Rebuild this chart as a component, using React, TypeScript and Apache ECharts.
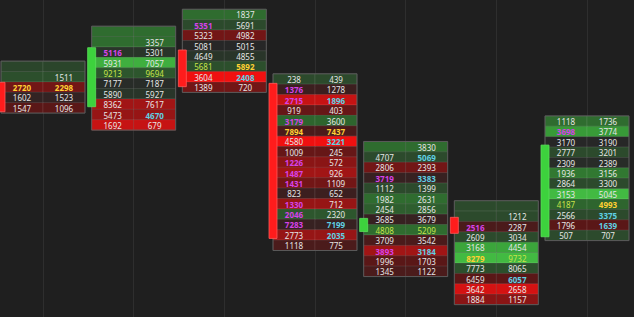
import React, { useEffect, useRef } from 'react';
import * as echarts from 'echarts';

// candle time buckets
const times = ['09:30', '09:35', '09:40', '09:45', '09:50', '09:55', '10:00'];
// price level (in ticks from the top of the view) of each candle's first footprint row
const topLevels = [6.38, 3.02, 1.39, 7.6, 14.11, 19.81, 11.65];
// candle bodies (same tick units)
const opens = [7.92, 10.27, 4.81, 8.02, 22.28, 20.91, 22.78];
const closes = [10.75, 4.59, 8.34, 22.94, 21.01, 22.45, 13.96];

// bid volume per price row (top to bottom)
const bids: (number | null)[][] = [
  [null, null, 2720, 1602, 1547],
  [null, null, 5116, 5931, 9213, 7177, 5890, 8362, 5473, 1692],
  [null, 5351, 5323, 5081, 4649, 5681, 3604, 1389],
  [238, 1376, 2715, 919, 3179, 7894, 4580, 1009, 1226, 1487, 1431, 823, 1330, 2046, 7283, 2773, 1118],
  [null, 4707, 2806, 3719, 1112, 1982, 2454, 3685, 4808, 3709, 3893, 1996, 1345],
  [null, null, 2516, 2609, 3168, 8279, 7773, 6459, 3642, 1884],
  [1118, 3698, 3170, 2777, 2309, 1936, 2864, 3153, 4187, 2566, 1796, 507],
];
// ask volume per price row
const asks: (number | null)[][] = [
  [null, 1511, 2298, 1523, 1096],
  [null, 3357, 5301, 7057, 9694, 7187, 5927, 7617, 4670, 679],
  [1837, 5691, 4982, 5015, 4855, 5892, 2408, 720],
  [439, 1278, 1896, 403, 3600, 7437, 3221, 245, 572, 926, 1109, 652, 712, 2320, 7199, 2035, 775],
  [3830, 5069, 2393, 3383, 1399, 2631, 2856, 3679, 5209, 3542, 3184, 1703, 1122],
  [null, 1212, 2287, 3034, 4454, 9732, 8065, 6057, 2658, 1157],
  [1736, 3774, 3190, 3201, 2389, 3156, 3300, 5045, 4993, 3375, 1639, 707],
];
// heat of each row (-1 strong selling .. +1 strong buying)
const heat: number[][] = [
  [0.3, 0.4, -0.5, -0.1, -0.4],
  [0.6, 0.6, 0.15, 0.9, 0.45, 0.05, 0.15, -0.7, -0.65, -0.85],
  [0.6, 0.35, -0.5, 0, 0.15, 0.4, -1, -0.5],
  [0.35, -0.2, -0.85, -0.45, 0.55, -0.3, -1, -0.45, -0.6, -0.7, -0.5, -0.2, -0.65, 0.45, -0.15, -0.65, -0.3],
  [0.6, 0.35, -0.5, -0.15, 0.35, 0.6, 0.5, -0.15, 0.6, -0.3, -0.7, -0.4, -0.3],
  [0.35, 0.35, -0.3, 0.35, 0.85, 0.95, 0.4, -0.4, -0.9, -0.6],
  [0.6, 0.8, 0, 0.35, 0.05, 0.65, 0.35, 0.95, 0.55, 0.35, -0.4, 0.35],
];
// imbalance marks: [bid mark][ask mark]; m = bid imbalance, c = ask imbalance, y = max volume, g = high volume
const marks: string[][] = [
  ['..', '..', 'yy', '..', '..'],
  ['..', '..', 'm.', '..', 'gg', '..', '..', '..', '.c', '..'],
  ['..', 'm.', '..', '..', '..', 'gy', '.c', '..'],
  ['..', 'm.', 'mc', '..', 'm.', 'yy', '.c', '..', 'm.', 'm.', 'm.', '..', 'm.', 'm.', 'mc', '.c', '..'],
  ['..', '.c', '..', 'mc', '..', '..', '..', '..', 'gg', '..', 'mc', '..', '..'],
  ['..', '..', 'm.', '..', '..', 'yg', '..', '.c', '..', '..'],
  ['..', 'm.', '..', '..', '..', '..', '..', '..', 'gy', '.c', '.c', '..'],
];

const greenStops = ['#272727', '#2a3a2a', '#2c4f2c', '#2f6c2f', '#389a38', '#45c445'];
const redStops = ['#272727', '#3c1f1f', '#5a1717', '#8a1515', '#b81414', '#f01010'];

function hexToRgb(h: string) {
  return [parseInt(h.slice(1, 3), 16), parseInt(h.slice(3, 5), 16), parseInt(h.slice(5, 7), 16)];
}
function mix(a: string, b: string, t: number) {
  const A = hexToRgb(a), B = hexToRgb(b);
  const c = A.map((v, i) => Math.round(v + (B[i] - v) * t));
  return `rgb(${c[0]},${c[1]},${c[2]})`;
}
function shadeColor(s: number) {
  const stops = s >= 0 ? greenStops : redStops;
  const t = Math.min(5, Math.abs(s) * 5);
  const i = Math.min(4, Math.floor(t));
  return mix(stops[i], stops[i + 1], t - i);
}
const markStyle: Record<string, { color: string; weight: string }> = {
  '.': { color: '#e6e6e6', weight: 'normal' },
  m: { color: '#d642e8', weight: 'bold' },
  c: { color: '#5fd0e4', weight: 'bold' },
  y: { color: '#ffcf33', weight: 'bold' },
  g: { color: '#c8e24a', weight: 'normal' },
};

type Row = { ci: number; level: number; bid: number | null; ask: number | null; heat: number; mark: string };
const rows: Row[] = [];
bids.forEach((list, ci) => {
  list.forEach((b, k) => {
    rows.push({ ci, level: topLevels[ci] + k, bid: b, ask: asks[ci][k], heat: heat[ci][k], mark: marks[ci][k] });
  });
});

const HALF = 42;
const FONT = 'Noto Sans, Open Sans, sans-serif';

export default function App() {
  const ref = useRef<HTMLDivElement>(null);
  useEffect(() => {
    if (!ref.current) return;
    const chart = echarts.init(ref.current, undefined, { renderer: 'svg' });
    const option: any = {
      animation: false,
      backgroundColor: '#1f1f1f',
      grid: { left: 43, right: 47, top: 0, bottom: 0 },
      xAxis: {
        type: 'category',
        data: times,
        boundaryGap: false,
        axisLine: { show: false },
        axisTick: { show: false },
        axisLabel: { show: false },
        splitLine: { show: true, lineStyle: { color: '#2e2e2e', width: 1 } },
      },
      yAxis: {
        type: 'value',
        inverse: true,
        min: 0,
        max: 30.5,
        axisLine: { show: false },
        axisTick: { show: false },
        axisLabel: { show: false },
        splitLine: { show: false },
      },
      series: [
        {
          type: 'custom',
          clip: false,
          data: rows.map((r) => [r.ci, r.level]),
          renderItem: (params: any, api: any) => {
            const r = rows[params.dataIndex];
            const p = api.coord([r.ci, r.level]);
            const p2 = api.coord([r.ci, r.level + 1]);
            const rh = Math.abs(p2[1] - p[1]);
            const cx = p[0];
            const top = p[1] - rh / 2;
            const bg = shadeColor(r.heat);
            const children: any[] = [
              { type: 'rect', shape: { x: cx - HALF, y: top, width: HALF, height: rh }, style: { fill: bg, stroke: 'rgba(255,255,255,0.08)', lineWidth: 1 } },
              { type: 'rect', shape: { x: cx, y: top, width: HALF, height: rh }, style: { fill: bg, stroke: 'rgba(255,255,255,0.08)', lineWidth: 1 } },
            ];
            const vals = [r.bid, r.ask];
            vals.forEach((v, j) => {
              if (v == null) return;
              const ms = markStyle[r.mark[j]] || markStyle['.'];
              children.push({
                type: 'text',
                style: {
                  text: String(v),
                  x: cx + (j === 0 ? -HALF / 2 : HALF / 2),
                  y: p[1] + 0.5,
                  align: 'center',
                  verticalAlign: 'middle',
                  fill: ms.color,
                  fontSize: 8,
                  fontWeight: ms.weight,
                  fontFamily: FONT,
                },
              });
            });
            return { type: 'group', children };
          },
        },
        {
          type: 'custom',
          clip: false,
          data: times.map((_, i) => [i, topLevels[i]]),
          renderItem: (params: any, api: any) => {
            const i = params.dataIndex;
            const n = bids[i].length;
            const a = api.coord([i, topLevels[i] - 0.5]);
            const b = api.coord([i, topLevels[i] + n - 0.5]);
            return {
              type: 'rect',
              shape: { x: a[0] - HALF, y: a[1], width: HALF * 2, height: b[1] - a[1] },
              style: { fill: 'none', stroke: '#5a5a5a', lineWidth: 1 },
            };
          },
        },
        {
          type: 'custom',
          clip: false,
          data: times.map((_, i) => [i, opens[i], closes[i]]),
          renderItem: (params: any, api: any) => {
            const i = params.dataIndex;
            const a = api.coord([i, opens[i]]);
            const b = api.coord([i, closes[i]]);
            const up = closes[i] < opens[i];
            const y0 = Math.min(a[1], b[1]);
            return {
              type: 'rect',
              shape: { x: a[0] - HALF - 4, y: y0, width: 8, height: Math.abs(b[1] - a[1]) },
              style: {
                fill: up ? '#3dd23d' : '#ff1c1c',
                stroke: up ? '#5be05b' : '#ff5a5a',
                lineWidth: 0.8,
              },
            };
          },
        },
      ],
    };
    chart.setOption(option);
    return () => chart.dispose();
  }, []);
  return <div ref={ref} style={{ position: 'absolute', left: 0, top: 0, width: 634, height: 317 }} />;
}
